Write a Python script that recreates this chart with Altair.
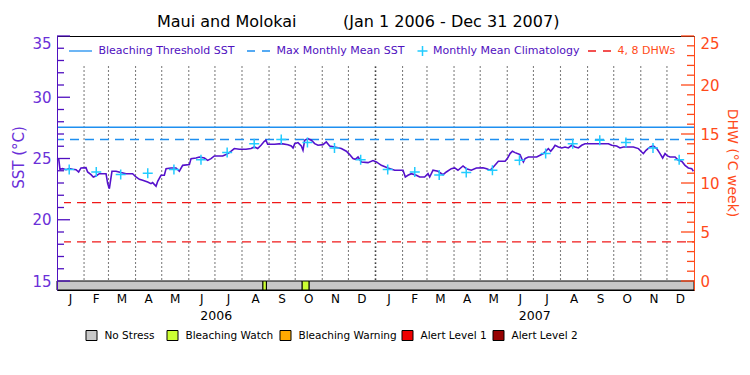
import altair as alt
import pandas as pd

FONT = "DejaVu Sans"
W, H = 637, 254

# ---------------- data ----------------
title_left = "Maui and Molokai"
title_right = "(Jan 1 2006 - Dec 31 2007)"

# day of record (0 = 1 Jan 2006) and SST (deg C)
sst_day = [0, 2, 3.4, 6.5, 10.3, 14.1, 18, 21.8, 24.8, 27.5, 33.2, 35.1, 39, 41.6, 44.7, 48.5,
           56.2, 58.1, 60, 61.1, 63, 67.6, 73.3, 79.1, 86.7, 90.5, 94.4, 98.2, 103.9, 107.7,
           109.6, 113.5, 115.4, 119.2, 123, 125, 130.6, 136.4, 140.2, 144, 151.7, 153.6, 159.3,
           163.1, 168.9, 172.7, 176.5, 180.3, 189.9, 193.7, 197.5, 203.2, 209, 216.6, 222.4,
           226.2, 230, 233.8, 237.6, 239.5, 241.4, 245.2,
           249.4, 257.1, 264.7, 268.5, 270.5, 272.4, 276.2, 280, 281.9, 283.8, 287.6, 291.5,
           295.3, 299.1, 304.8, 308.6, 312.5, 318.2, 325.8, 331.6, 335.4, 339.2, 341.9, 345,
           348.8, 356.4, 362.1, 366, 371.7, 379.3, 387, 396.5, 399.2, 402.2, 406, 411.8, 415.6,
           421.3, 425.2, 427.1, 430.9, 436.6, 442.4, 446.2, 451.9, 455.7, 459.5, 465.3, 469.1,
           474.8, 480.6, 488.2,
           492.4, 496.3, 500.1, 505.8, 513.5, 516.1, 519.2, 521.9, 524.9, 527.6, 530.6, 532.6,
           534.5, 536.4, 540.2, 549.7, 553.6, 557.4, 561.2, 563.1, 565.8, 568.8, 570.8, 574.6,
           578.4, 582.2, 586, 589.9, 593.7, 597.5, 601.3, 605.1, 614.7, 622.3, 631.9, 635.7,
           641.4, 645.2, 649.1, 660.5, 666.3, 670.1, 672, 675, 679.6, 683.4, 687.3, 691.1,
           694.1, 696.8, 699.5, 702.5, 708.3, 712.1, 715.9, 719.7, 723.5, 727.4, 729.3]
sst_val = [25.0, 24.95, 24.12, 24.17, 24.09, 24.17, 24.12, 24.09, 23.9, 24.23, 24.25, 23.9,
           23.68, 23.49, 23.57, 23.76, 23.76, 22.95, 22.54, 23.08, 23.96, 23.96, 23.85, 23.76,
           23.76, 23.49, 23.3, 23.22, 23.08, 22.95, 23.03, 22.73, 23.14, 23.63, 23.63, 24.17,
           24.23, 24.23, 23.96, 24.44, 24.5, 24.99, 25.04, 25.12, 25.04, 24.85, 24.99, 25.21,
           25.21, 25.32, 25.48, 25.81, 25.75, 25.75, 25.81, 25.94, 25.81, 26.08, 26.4, 26.49,
           26.16, 26.16,
           26.16, 26.21, 26.13, 26.02, 25.86, 26.21, 26.3, 26.02, 25.67, 26.49, 26.62, 26.49,
           26.21, 26.08, 26.13, 26.35, 26.02, 25.94, 25.81, 25.59, 25.32, 24.99, 24.93, 25.12,
           24.72, 24.66, 24.83, 24.72, 24.44, 24.23, 24.04, 24.04, 23.49, 23.63, 23.76, 23.63,
           23.49, 23.49, 23.76, 23.49, 24.04, 23.96, 23.68, 23.9, 24.17, 24.23, 24.04, 24.39,
           24.17, 24.04, 24.23, 24.25,
           24.17, 24.04, 24.31, 24.77, 24.77, 24.99, 25.4, 25.59, 25.48, 25.4, 25.32, 24.99,
           24.72, 24.99, 25.12, 25.12, 25.26, 25.4, 25.67, 25.81, 25.59, 25.86, 26.08, 25.94,
           25.86, 25.94, 25.86, 26.08, 25.94, 25.86, 26.08, 26.21, 26.21, 26.21, 26.21, 26.08,
           26.02, 25.86, 25.94, 25.94, 25.81, 25.53, 25.4, 25.67, 25.94, 26.02, 25.81, 25.4,
           25.04, 25.4, 25.21, 25.12, 25.12, 24.85, 24.77, 24.44, 24.23, 24.17, 23.96]

# monthly mean climatology (plotted mid-month), Jan 2006 .. Dec 2007
clim_val = [24.1, 23.9, 23.7, 23.8, 24.1, 24.9, 25.5, 26.2, 26.55, 26.3, 25.85, 24.9,
            24.1, 23.9, 23.65, 23.85, 24.05, 24.85, 25.4, 26.2, 26.5, 26.3, 25.86, 24.9]

threshold_sst = 27.55
mmm_sst = 26.55
dhw_levels = [4, 8]

status_start = [0, 236, 240, 281, 289]
status_end = [236, 240, 281, 289, 730]
status_name = ["No Stress", "Bleaching Watch", "No Stress", "Bleaching Watch", "No Stress"]
status_levels = ["No Stress", "Bleaching Watch", "Bleaching Warning", "Alert Level 1", "Alert Level 2"]
status_colors = ["#C8C8C8", "#CCFF33", "#FFAA00", "#EE0000", "#960000"]

month_letters = ["J", "F", "M", "A", "M", "J", "J", "A", "S", "O", "N", "D"] * 2
year_labels = ["2006", "2007"]

sst_major = [15, 20, 25, 30, 35]
sst_minor = [v for v in range(15, 36) if v % 5 != 0]
dhw_major = [0, 5, 10, 15, 20, 25]
dhw_minor = [v for v in range(0, 26) if v % 5 != 0]

# ---------------- layout (pixels, relative to plot origin) ----------------
status_legend_x = [29, 110, 223, 345, 436]

# ---------------- derived tables ----------------
starts = pd.date_range("2006-01-01", "2008-01-01", freq="MS")
bound = [(d - starts[0]).days for d in starts]
mid = [(a + b) / 2 for a, b in zip(bound[:-1], bound[1:])]
clim_day = [b + 14 for b in bound[:-1]]
year_bound = 365
month_lines = [b for b in bound[1:-1] if b != year_bound]
year_mid = [year_bound / 2, (year_bound + bound[-1]) / 2]

SST_LO = 15 - 9 / 12.25
DHW_LO = -9 / 9.8

sst_df = pd.DataFrame({"day": sst_day, "sst": sst_val})
clim_df = pd.DataFrame({"day": clim_day, "sst": clim_val})
status_df = pd.DataFrame({"start": status_start, "end": status_end, "status": status_name,
                          "lo": SST_LO, "hi": 15})
month_df = pd.DataFrame({"day": mid, "m": month_letters})
year_df = pd.DataFrame({"day": year_mid, "y": year_labels})
mline_df = pd.DataFrame({"day": month_lines})
yline_df = pd.DataFrame({"day": [year_bound]})
one = pd.DataFrame({"k": [0]})

PURPLE = "#5010C0"
LPURPLE = "#6A2FD8"
BLUE = "#1E8FF0"
CYAN = "#22CCFF"
RED = "#F01818"
ORANGE = "#FF4A1A"
CROSS = "M-1,0L1,0M0,-1L0,1"

x_scale = alt.Scale(domain=[0, 730], nice=False, zero=False)
sst_scale = alt.Scale(domain=[SST_LO, 35], nice=False, zero=False)
dhw_scale = alt.Scale(domain=[DHW_LO, 25], nice=False, zero=False)
status_scale = alt.Scale(domain=status_levels, range=status_colors)
X = alt.X("day:Q", scale=x_scale, axis=None)

layers = []

# status bar
layers.append(
    alt.Chart(status_df).mark_rect(stroke="black", strokeWidth=1, opacity=1).encode(
        x=alt.X("start:Q", scale=x_scale, axis=None), x2="end:Q",
        y=alt.Y("lo:Q", scale=sst_scale, axis=None), y2="hi:Q",
        color=alt.Color("status:N", scale=status_scale, legend=None)))

# month dotted lines
layers.append(alt.Chart(mline_df).mark_rule(color="black", strokeWidth=1.1, strokeDash=[1, 3]).encode(
    x=X, y=alt.value(30.5), y2=alt.value(245)))
layers.append(alt.Chart(yline_df).mark_rule(color="black", strokeWidth=1.6, strokeDash=[1.2, 2.8]).encode(
    x=X, y=alt.value(30.5), y2=alt.value(245)))

# threshold and MMM
layers.append(alt.Chart(pd.DataFrame({"v": [threshold_sst]})).mark_rule(color=BLUE, strokeWidth=1.3).encode(
    y=alt.Y("v:Q", scale=sst_scale, axis=None)))
layers.append(alt.Chart(pd.DataFrame({"v": [mmm_sst]})).mark_rule(color=BLUE, strokeWidth=1.3, strokeDash=[9, 6]).encode(
    y=alt.Y("v:Q", scale=sst_scale, axis=None)))

# DHW levels
layers.append(alt.Chart(pd.DataFrame({"v": dhw_levels})).mark_rule(color=RED, strokeWidth=1.3, strokeDash=[9, 6], strokeDashOffset=2).encode(
    y=alt.Y("v:Q", scale=dhw_scale, axis=None), x=alt.value(7), x2=alt.value(W)))

# SST line
layers.append(alt.Chart(sst_df).mark_line(color="#5511CC", strokeWidth=1.6).encode(
    x=X, y=alt.Y("sst:Q", scale=sst_scale, axis=None)))

# climatology crosses
layers.append(alt.Chart(clim_df).mark_point(shape=CROSS, size=100, color=CYAN, strokeWidth=1.5, filled=False, opacity=1).encode(
    x=X, y=alt.Y("sst:Q", scale=sst_scale, axis=None)))

# left axis with inner ticks
left_axis = alt.Axis(orient="left", values=sst_major, tickSize=0, labelFlush=True, labelPadding=6,
                     labelFont=FONT, labelFontSize=15, labelColor=LPURPLE, domainColor=PURPLE,
                     domainWidth=1, grid=False, title="SST (°C)", titleFont=FONT, titleFontSize=15,
                     titleFontWeight="normal", titleColor=LPURPLE, titleAngle=270, titleX=-39,
                     titleY=121, titleAlign="center", titleBaseline="middle", zindex=1)
layers.append(alt.Chart(pd.DataFrame({"v": sst_major})).mark_rule(color=PURPLE, strokeWidth=1.3).encode(
    y=alt.Y("v:Q", scale=sst_scale, axis=left_axis), x=alt.value(0), x2=alt.value(13)))
layers.append(alt.Chart(pd.DataFrame({"v": sst_minor})).mark_rule(color=PURPLE, strokeWidth=1.3).encode(
    y=alt.Y("v:Q", scale=sst_scale, axis=None), x=alt.value(0), x2=alt.value(7)))

# right axis with inner ticks
right_axis = alt.Axis(orient="right", values=dhw_major, tickSize=0, labelFlush=True, labelPadding=6,
                      labelFont=FONT, labelFontSize=15, labelColor=ORANGE, domainColor=ORANGE,
                      domainWidth=1, grid=False, title="DHW (°C week)", titleFont=FONT, titleFontSize=14,
                      titleFontWeight="normal", titleColor=ORANGE, titleAngle=90, titleX=37,
                      titleY=126.5, titleAlign="center", titleBaseline="middle", zindex=1)
layers.append(alt.Chart(pd.DataFrame({"v": dhw_major})).mark_rule(color=ORANGE, strokeWidth=1.3).encode(
    y=alt.Y("v:Q", scale=dhw_scale, axis=right_axis), x=alt.value(W - 13), x2=alt.value(W)))
layers.append(alt.Chart(pd.DataFrame({"v": dhw_minor})).mark_rule(color=ORANGE, strokeWidth=1.3).encode(
    y=alt.Y("v:Q", scale=dhw_scale, axis=None), x=alt.value(W - 7), x2=alt.value(W)))

# month and year labels
layers.append(alt.Chart(month_df).mark_text(font=FONT, fontSize=12, color="black", baseline="middle").encode(
    x=X, y=alt.value(263), text="m:N"))
layers.append(alt.Chart(year_df).mark_text(font=FONT, fontSize=12.5, color="black", baseline="middle").encode(
    x=X, y=alt.value(280), text="y:N"))


def label(text, x, y, size, color):
    return alt.Chart(pd.DataFrame({"t": [text]})).mark_text(
        font=FONT, fontSize=size, color=color, align="left", baseline="middle").encode(
        text="t:N", x=alt.value(x), y=alt.value(y))


# title
layers.append(label(title_left, 100, -14, 16, "black"))
layers.append(label(title_right, 286, -14, 16, "black"))

# top legend
LY = 15
layers.append(alt.Chart(one).mark_rule(color=BLUE, strokeWidth=1.3).encode(
    x=alt.value(12), x2=alt.value(35), y=alt.value(LY)))
layers.append(label("Bleaching Threshold SST", 41.5, LY, 11, PURPLE))
layers.append(alt.Chart(one).mark_rule(color=BLUE, strokeWidth=1.3, strokeDash=[8, 7]).encode(
    x=alt.value(190), x2=alt.value(213), y=alt.value(LY)))
layers.append(label("Max Monthly Mean SST", 219.5, LY, 11, PURPLE))
layers.append(alt.Chart(one).mark_point(shape=CROSS, size=100, color=CYAN, strokeWidth=1.5, filled=False, opacity=1).encode(
    x=alt.value(365.5), y=alt.value(LY)))
layers.append(label("Monthly Mean Climatology", 376, LY, 11, PURPLE))
layers.append(alt.Chart(one).mark_rule(color=RED, strokeWidth=1.3, strokeDash=[8, 7]).encode(
    x=alt.value(531), x2=alt.value(555), y=alt.value(LY)))
layers.append(label("4, 8 DHWs", 560.5, LY, 11, ORANGE))

# bottom status legend
for lvl, lx in zip(status_levels, status_legend_x):
    layers.append(alt.Chart(pd.DataFrame({"status": [lvl]})).mark_rect(stroke="black", strokeWidth=1, opacity=1).encode(
        x=alt.value(lx), x2=alt.value(lx + 11), y=alt.value(294.5), y2=alt.value(304.5),
        color=alt.Color("status:N", scale=status_scale, legend=None)))
    layers.append(label(lvl, lx + 18.5, 299.7, 10.5, "black"))

chart = alt.layer(*layers).resolve_scale(y="independent").properties(
    width=W, height=H, autosize=alt.AutoSizeParams(type="none"),
    padding={"left": 49, "top": 28, "right": 48, "bottom": 70},
    background="white",
).configure_view(stroke="black", strokeWidth=1)

chart.save("out.html", embed_options={"renderer": "svg", "actions": False})
